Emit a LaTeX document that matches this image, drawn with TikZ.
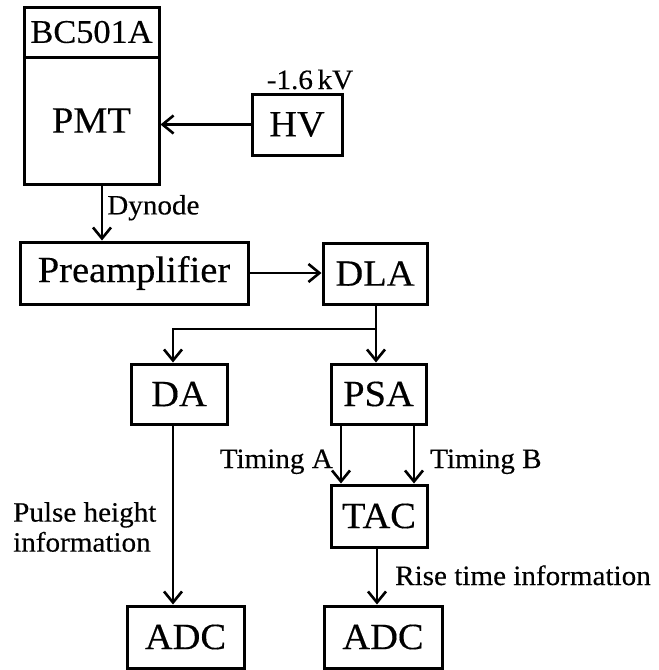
\documentclass[tikz,border=0pt]{standalone}
\usepackage{fontspec}
\setmainfont{Liberation Serif}[FakeStretch=1.04, FakeBold=0.3]
\usetikzlibrary{arrows.meta}

\tikzset{
  blk/.style={draw, line width=3pt, inner sep=0pt, font=\fontsize{37}{40}\selectfont},
  lbl/.style={inner sep=0pt, font=\fontsize{28}{30}\selectfont},
  sig/.style={line width=2.6pt, -{Straight Barb[length=11pt,width=18pt,line width=2.6pt]}}
}

\begin{document}
\begin{tikzpicture}[x=1pt, y=-1pt]
\useasboundingbox (0,0) rectangle (659,670);

% detector and high voltage
\node (bc) [blk, minimum width=135pt, minimum height=50pt, font=\fontsize{33}{36}\selectfont] at (91.5,32) {BC501A};
\node (pmt) [blk, minimum width=135pt, minimum height=127pt] at (91.5,120.5) {PMT};
\node (hv) [blk, minimum width=90pt, minimum height=61pt] at (297,124.5) {HV};
\node (kv) [lbl, anchor=base] at (310,89) {-1.6\,kV};
\draw[sig] (hv.west) -- (hv.west -| pmt.east);

% amplifier chain
\node (pre) [blk, minimum width=228pt, minimum height=62pt] at (134,273) {Preamplifier};
\node (dla) [blk, minimum width=104pt, minimum height=61pt] at (375,273.5) {DLA};
\coordinate (dyn) at (102,184);
\draw[sig] (dyn) -- (dyn |- pre.north) node [lbl, pos=0.42, anchor=west, xshift=4pt] {Dynode};
\draw[sig] (pre.east) -- (pre.east -| dla.west);

\node (da) [blk, minimum width=96pt, minimum height=60pt] at (179,394) {DA};
\node (psa) [blk, minimum width=95pt, minimum height=60pt] at (378.5,394) {PSA};
\coordinate (split) at (376,329);
\coordinate (ph) at (173,0);
\draw[line width=2.6pt] (dla.south -| split) -- (split);
\draw[sig] (split) -| (ph |- da.north);
\draw[sig] (split) -- (split |- psa.north);

% timing branch
\node (tac) [blk, minimum width=96pt, minimum height=62pt] at (379,516) {TAC};
\coordinate (ta) at (341,0);
\coordinate (tb) at (414,0);
\draw[sig] (ta |- psa.south) -- (ta |- tac.north);
\draw[sig] (tb |- psa.south) -- (tb |- tac.north);
\node (tima) [lbl, anchor=base east] at (333,468) {Timing A};
\node (timb) [lbl, anchor=base west] at (430,468) {Timing B};

% converters
\node (adca) [blk, minimum width=117pt, minimum height=62pt] at (185.5,637) {ADC};
\node (adcb) [blk, minimum width=118pt, minimum height=62pt] at (383,637) {ADC};
\coordinate (rt) at (377,0);
\draw[sig] (ph |- da.south) -- (ph |- adca.north);
\draw[sig] (rt |- tac.south) -- (rt |- adcb.north);
\node (pulse) [lbl, anchor=west, align=left] at (13,527) {Pulse height\\information};
\node (rise) [lbl, anchor=base west] at (395,585) {Rise time information};

\end{tikzpicture}
\end{document}
